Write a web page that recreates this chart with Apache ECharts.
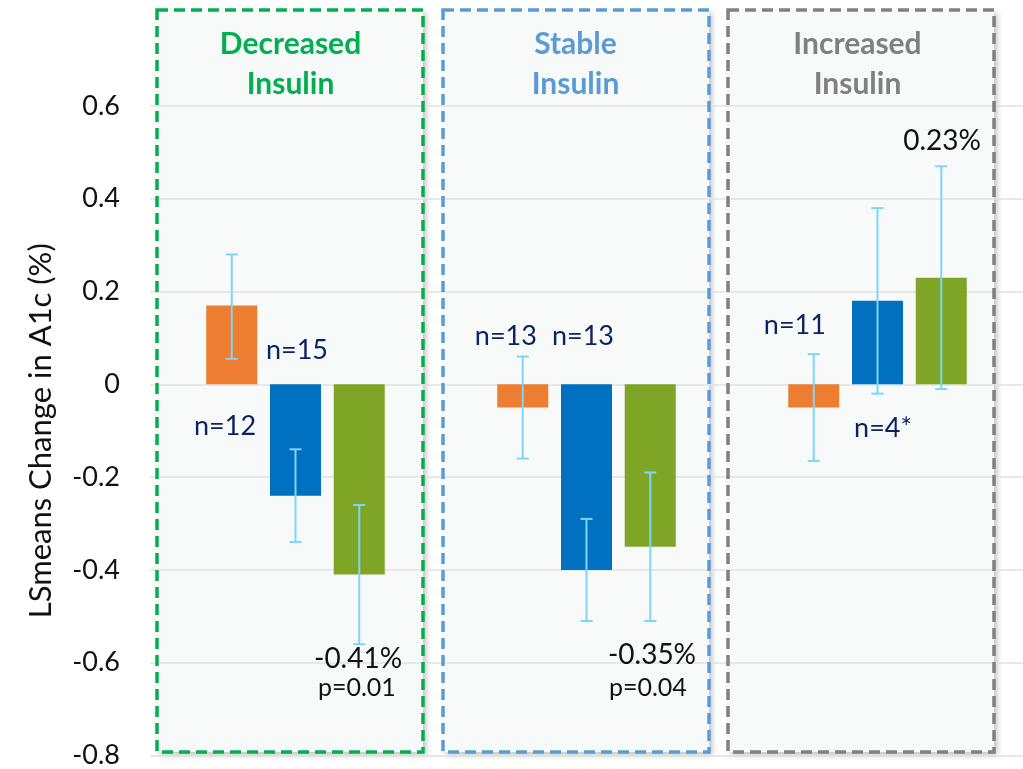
<!DOCTYPE html>
<html>
<head>
<meta charset="utf-8">
<script src="https://cdn.jsdelivr.net/npm/echarts@6/dist/echarts.min.js"></script>
<style>
  html, body { margin: 0; padding: 0; background: #fff; }
  #main { width: 1023px; height: 769px; }
</style>
</head>
<body>
<div id="main"></div>
<script>
// categories (top labels) and their colours
const groups = ['Decreased\nInsulin', 'Stable\nInsulin', 'Increased\nInsulin'];
const groupColors = ['#00B050', '#5B9BD5', '#808080'];

// LS means change in A1c (%) and error bar ends
const orangeVals = [0.17, -0.05, -0.05];
const orangeHi = [0.28, 0.06, 0.065];
const orangeLo = [0.055, -0.16, -0.165];

const blueVals = [-0.24, -0.40, 0.18];
const blueHi = [-0.14, -0.29, 0.38];
const blueLo = [-0.34, -0.51, -0.02];

const greenVals = [-0.41, -0.35, 0.23];
const greenHi = [-0.26, -0.19, 0.47];
const greenLo = [-0.56, -0.51, -0.01];

// text annotations (x in category units, y in axis units)
const annoText = ['n=15', 'n=12', '-0.41%', 'p=0.01', 'n=13', 'n=13', '-0.35%', 'p=0.04', 'n=11', 'n=4*', '0.23%'];
const annoX = [0.505, 0.258, 0.715, 0.711, 1.223, 1.488, 1.725, 1.711, 2.216, 2.519, 2.722];
const annoY = [0.073, -0.09, -0.591, -0.654, 0.103, 0.103, -0.583, -0.654, 0.127, -0.095, 0.525];

const BAR_W = 51;
const BAR_GAP = 0.25;
const FONT = 'Lato, "Open Sans", sans-serif';
const NAVY = '#0A2463';
const ERR_COLOR = '#7DD6F7';

const chart = echarts.init(document.getElementById('main'));

function errRender(k) {
  return function (params, api) {
    const cat = api.value(0);
    const hi = api.coord([cat, api.value(1)]);
    const lo = api.coord([cat, api.value(2)]);
    const x = hi[0] + (k - 1) * BAR_W * (1 + BAR_GAP);
    const cap = 6;
    const st = {stroke: ERR_COLOR, lineWidth: 2};
    return {
      type: 'group',
      children: [
        {type: 'line', shape: {x1: x, y1: hi[1], x2: x, y2: lo[1]}, style: st},
        {type: 'line', shape: {x1: x - cap, y1: hi[1], x2: x + cap, y2: hi[1]}, style: st},
        {type: 'line', shape: {x1: x - cap, y1: lo[1], x2: x + cap, y2: lo[1]}, style: st}
      ]
    };
  };
}

function errData(hi, lo) {
  return hi.map((h, i) => [i, h, lo[i]]);
}

const annoData = annoText.map((t, i) => {
  const isN = t.startsWith('n=');
  const isP = t.startsWith('p=');
  return {
    name: t,
    value: [annoX[i], annoY[i]],
    label: {
      color: isN ? NAVY : '#111',
      fontSize: isP ? 25 : (isN ? 27 : 28)
    }
  };
});

const boxes = [
  {x: 157, color: '#00B050'},
  {x: 443, color: '#5B9BD5'},
  {x: 728, color: '#808080'}
];
const graphics = [];
boxes.forEach(b => {
  graphics.push({
    type: 'rect', z: -1, silent: true,
    shape: {x: b.x, y: 10, width: 266, height: 742},
    style: {fill: '#f8f9f9', shadowBlur: 6, shadowColor: 'rgba(0,0,0,0.25)', shadowOffsetX: 3, shadowOffsetY: 3}
  });
  graphics.push({
    type: 'rect', z: 100, silent: true,
    shape: {x: b.x, y: 10, width: 266, height: 742},
    style: {fill: null, stroke: b.color, lineWidth: 3.5, lineDash: [11, 6]}
  });
});

function titleStyle(color, shift) {
  return {color: color, fontSize: 30, fontWeight: 'bold', fontFamily: FONT, lineHeight: 40, padding: [0, shift * 2, 0, 0]};
}

const option = {
  backgroundColor: '#fff',
  animation: false,
  graphic: graphics,
  grid: {left: 150, right: 0, top: 106, bottom: 12},
  xAxis: [
    {
      type: 'category',
      data: groups,
      position: 'top',
      axisLine: {show: false},
      axisTick: {show: false},
      splitLine: {show: false},
      axisLabel: {
        margin: 2,
        interval: 0,
        formatter: (v, i) => v.split('\n').map(s => '{g' + i + '|' + s + '}').join('\n'),
        rich: {
          g0: titleStyle(groupColors[0], 5),
          g1: titleStyle(groupColors[1], 11),
          g2: titleStyle(groupColors[2], 20)
        }
      }
    },
    {type: 'value', min: 0, max: 3, show: false, splitLine: {show: false}}
  ],
  yAxis: {
    type: 'value',
    min: -0.8,
    max: 0.6,
    interval: 0.2,
    name: 'LSmeans Change in A1c (%)',
    nameLocation: 'middle',
    nameGap: 94,
    nameTextStyle: {fontSize: 31, color: '#111', fontFamily: FONT},
    axisLine: {show: false},
    axisTick: {show: false},
    axisLabel: {fontSize: 27, color: '#111', fontFamily: FONT, margin: 30},
    splitLine: {lineStyle: {color: '#e0e0e0', width: 1.5}}
  },
  series: [
    {type: 'bar', name: 'orange', data: orangeVals, barWidth: BAR_W, barGap: '25%', itemStyle: {color: '#ED7D31'}},
    {type: 'bar', name: 'blue', data: blueVals, barWidth: BAR_W, barGap: '25%', itemStyle: {color: '#0070C0'}},
    {type: 'bar', name: 'green', data: greenVals, barWidth: BAR_W, barGap: '25%', itemStyle: {color: '#7FA526'}},
    {type: 'custom', renderItem: errRender(0), data: errData(orangeHi, orangeLo), encode: {x: 0, y: [1, 2]}, z: 5},
    {type: 'custom', renderItem: errRender(1), data: errData(blueHi, blueLo), encode: {x: 0, y: [1, 2]}, z: 5},
    {type: 'custom', renderItem: errRender(2), data: errData(greenHi, greenLo), encode: {x: 0, y: [1, 2]}, z: 5},
    {
      type: 'scatter',
      xAxisIndex: 1,
      symbolSize: 0,
      silent: true,
      z: 6,
      itemStyle: {opacity: 1},
      label: {show: true, position: 'inside', formatter: p => p.name, fontFamily: FONT},
      data: annoData
    }
  ]
};

chart.setOption(option);
</script>
</body>
</html>
